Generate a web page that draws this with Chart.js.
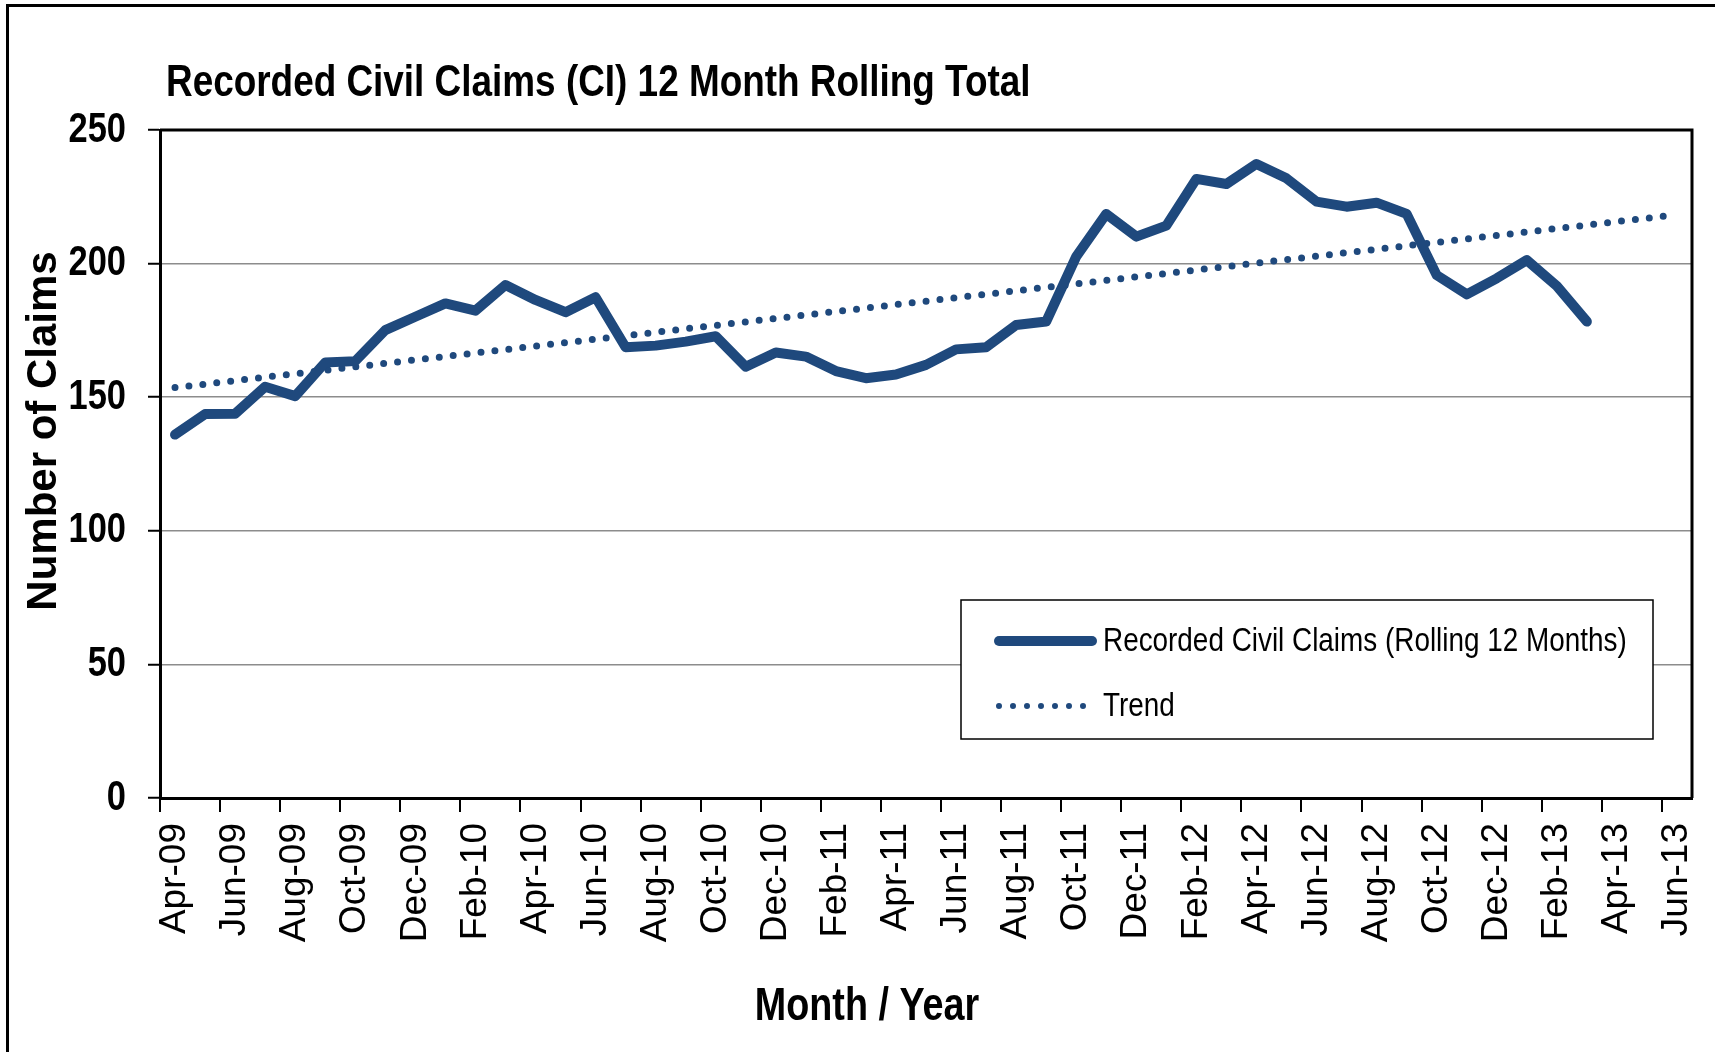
<!DOCTYPE html>
<html>
<head>
<meta charset="utf-8">
<title>Recorded Civil Claims</title>
<script src="https://cdn.jsdelivr.net/npm/chart.js@4.4.1/dist/chart.umd.min.js"></script>
<style>
  html, body { margin: 0; padding: 0; background: #fff; }
  #wrap { position: relative; width: 1715px; height: 1052px; overflow: hidden; background: #fff; }
  #mycan { position: absolute; left: 0; top: 0; }
  #frame { position: absolute; left: 6px; top: 4px; right: -10px; bottom: -10px;
           border-top: 3px solid #000; border-left: 3px solid #000; pointer-events: none; }
</style>
</head>
<body>
<div id="wrap">
  <canvas id="mycan" width="1715" height="1052"></canvas>
  <div id="frame"></div>
</div>
<script>
// months on the axis (Apr-09 .. Jun-13)
var months = [
  'Apr-09', 'May-09', 'Jun-09', 'Jul-09', 'Aug-09', 'Sep-09', 'Oct-09', 'Nov-09', 'Dec-09',
  'Jan-10', 'Feb-10', 'Mar-10', 'Apr-10', 'May-10', 'Jun-10', 'Jul-10', 'Aug-10', 'Sep-10', 'Oct-10', 'Nov-10', 'Dec-10',
  'Jan-11', 'Feb-11', 'Mar-11', 'Apr-11', 'May-11', 'Jun-11', 'Jul-11', 'Aug-11', 'Sep-11', 'Oct-11', 'Nov-11', 'Dec-11',
  'Jan-12', 'Feb-12', 'Mar-12', 'Apr-12', 'May-12', 'Jun-12', 'Jul-12', 'Aug-12', 'Sep-12', 'Oct-12', 'Nov-12', 'Dec-12',
  'Jan-13', 'Feb-13', 'Mar-13', 'Apr-13', 'May-13', 'Jun-13'
];

// rolling 12 month total, Apr-09 .. Mar-13
var claims = [
  136, 143.7, 143.8, 153.9, 150.4, 163, 163.5, 175.1, 180.1, 185.1,
  182.4, 192, 186.4, 181.8, 187.4, 168.7, 169.3, 170.8, 172.8, 161.4,
  166.7, 165.2, 159.8, 157.1, 158.5, 162.1, 167.9, 168.7, 177, 178.3,
  202.6, 218.6, 210.1, 214.2, 231.7, 229.8, 237.3, 231.9, 223.2, 221.3,
  222.8, 218.6, 195.7, 188.5, 194.5, 201.3, 191.6, 178.3
];

// trend line end points
var trendMonths = ['Apr-09', 'Jun-13'];
var trendValues = [153.6, 218.3];

var yTicks = [0, 50, 100, 150, 200, 250];

var lineBlue = '#1F497D';
var plain = '"Liberation Sans", Arial, sans-serif';

// no narrow face installed: squeeze Liberation Sans to Arial Narrow width
function narrowText(ctx, text, x, y, font, align) {
  ctx.save();
  ctx.font = font;
  ctx.textAlign = align || 'left';
  ctx.textBaseline = 'middle';
  ctx.fillStyle = '#000';
  ctx.translate(x, y);
  ctx.scale(0.82, 1);
  ctx.fillText(text, 0, 0);
  ctx.restore();
}

// black box on top and right of the plot
var plotFrame = {
  id: 'plotFrame',
  afterDatasetsDraw: function(chart) {
    var ctx = chart.ctx, a = chart.chartArea;
    ctx.save();
    ctx.strokeStyle = '#000';
    ctx.lineWidth = 3;
    ctx.beginPath();
    ctx.moveTo(a.left, a.top);
    ctx.lineTo(a.right, a.top);
    ctx.lineTo(a.right, a.bottom);
    ctx.stroke();
    ctx.restore();
  }
};

// legend box inside the plot, lower right
var boxLegend = {
  id: 'boxLegend',
  afterDraw: function(chart) {
    var ctx = chart.ctx, a = chart.chartArea;
    var x = a.right - 731, y = a.top + 470, w = 692, h = 139;
    ctx.save();
    ctx.fillStyle = '#fff';
    ctx.fillRect(x, y, w, h);
    ctx.strokeStyle = '#000';
    ctx.lineWidth = 1.5;
    ctx.strokeRect(x, y, w, h);
    chart.data.datasets.forEach(function(ds, i) {
      var ly = y + 41 + i * 65;
      ctx.beginPath();
      ctx.setLineDash(ds.borderDash || []);
      ctx.lineCap = 'round';
      ctx.lineWidth = i === 0 ? ds.borderWidth : ds.borderWidth - 1;
      ctx.strokeStyle = ds.borderColor;
      ctx.moveTo(x + 38, ly);
      ctx.lineTo(x + (i === 0 ? 131 : 124), ly);
      ctx.stroke();
      ctx.setLineDash([]);
      narrowText(ctx, ds.label, x + 142, ly + 1, '34px ' + plain);
    });
    ctx.restore();
  }
};

// chart title, y tick labels and axis titles
var texts = {
  id: 'texts',
  afterDraw: function(chart) {
    var ctx = chart.ctx, a = chart.chartArea, ys = chart.scales.y;
    narrowText(ctx, 'Recorded Civil Claims (CI) 12 Month Rolling Total', a.left + 6, a.top - 46, 'bold 45px ' + plain);
    ys.ticks.forEach(function(t) {
      narrowText(ctx, String(t.value), a.left - 34, ys.getPixelForValue(t.value), 'bold 42px ' + plain, 'right');
    });
    narrowText(ctx, 'Month / Year', a.left + 707, a.bottom + 209, 'bold 46px ' + plain, 'center');
    ctx.save();
    ctx.fillStyle = '#000';
    ctx.textAlign = 'center';
    ctx.textBaseline = 'middle';
    ctx.translate(a.left - 116, a.top + 301);
    ctx.rotate(-Math.PI / 2);
    ctx.font = 'bold 42px ' + plain;
    ctx.fillText('Number of Claims', 0, 0);
    ctx.restore();
  }
};

var trendData = [];
for (var i in trendMonths) {
  trendData.push({ x: trendMonths[i], y: trendValues[i] });
}

new Chart(document.getElementById('mycan'), {
  type: 'line',
  data: {
    labels: months,
    datasets: [
      {
        label: 'Recorded Civil Claims (Rolling 12 Months)',
        data: claims,
        borderColor: lineBlue,
        borderWidth: 10,
        borderJoinStyle: 'round',
        borderCapStyle: 'round',
        pointRadius: 0,
        tension: 0,
        fill: false
      },
      {
        label: 'Trend',
        data: trendData,
        borderColor: lineBlue,
        borderWidth: 7,
        borderDash: [0, 14],
        borderCapStyle: 'round',
        pointRadius: 0,
        fill: false
      }
    ]
  },
  options: {
    responsive: false,
    animation: false,
    events: [],
    layout: { padding: { top: 130, right: 23, bottom: 0, left: 0 } },
    plugins: {
      legend: { display: false },
      tooltip: { enabled: false },
      title: { display: false }
    },
    scales: {
      x: {
        type: 'category',
        offset: true,
        border: { color: '#000', width: 3 },
        grid: {
          offset: true,
          drawOnChartArea: false,
          drawTicks: true,
          tickLength: 14,
          lineWidth: 2,
          color: function(c) { return c.index % 2 === 0 ? '#000' : 'rgba(0,0,0,0)'; }
        },
        ticks: {
          autoSkip: false,
          minRotation: 90,
          maxRotation: 90,
          padding: 11,
          color: '#000',
          font: { family: plain, size: 37 },
          callback: function(val, idx) { return idx % 2 === 0 ? this.getLabelForValue(val) : ''; }
        },
        afterFit: function(s) {
          s.height = 254;
          s.paddingLeft = 0;
          s.paddingRight = 0;
        }
      },
      y: {
        min: yTicks[0],
        max: yTicks[yTicks.length - 1],
        border: { color: '#000', width: 3 },
        grid: { color: '#8c8c8c', lineWidth: 1.5, tickColor: '#000', tickLength: 12, tickWidth: 2 },
        ticks: {
          stepSize: yTicks[1] - yTicks[0],
          padding: 22,
          color: 'rgba(0,0,0,0)',
          font: { family: plain, size: 42, weight: 'bold' }
        },
        afterFit: function(s) { s.width = 160; }
      }
    }
  },
  plugins: [plotFrame, boxLegend, texts]
});
</script>
</body>
</html>
